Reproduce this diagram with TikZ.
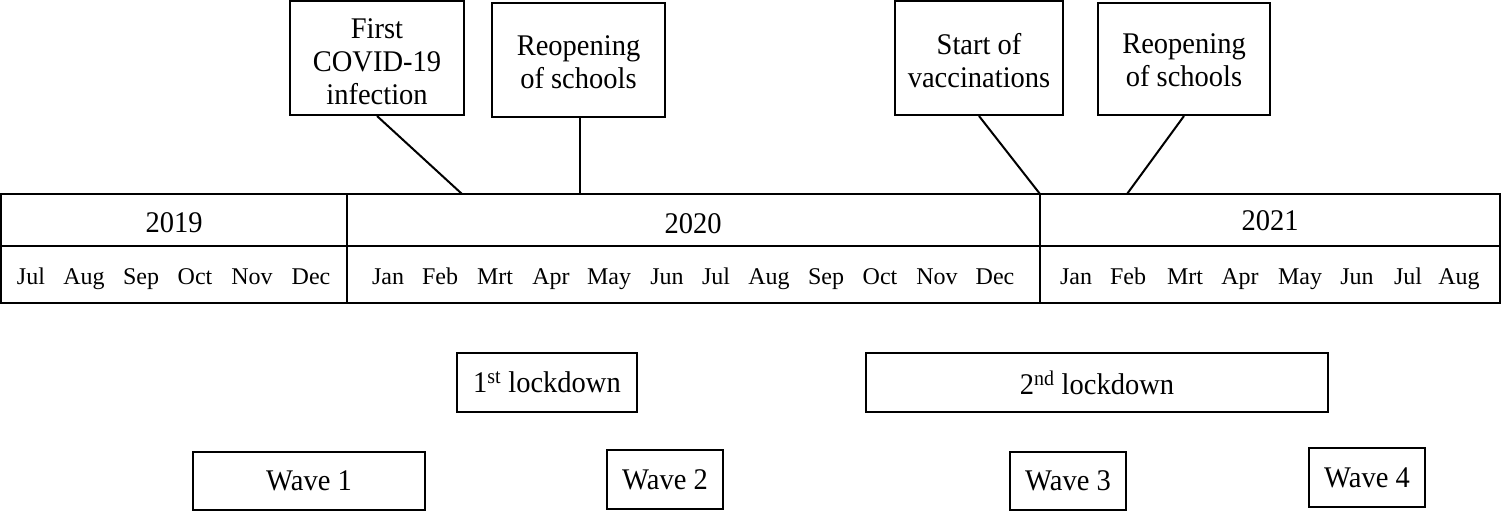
\documentclass[tikz,border=0pt]{standalone}
\usepackage{fontspec}
\setmainfont{Liberation Serif}
\newfontfamily\boxfont[FakeStretch=0.95]{Liberation Serif}
\begin{document}
\begin{tikzpicture}[x=1pt,y=-1pt,
  box/.style={draw,line width=2pt,align=center,inner sep=0pt,font=\boxfont\fontsize{30}{33}\selectfont},
  lbl/.style={inner sep=0pt,align=center,font=\boxfont\fontsize{30}{33}\selectfont},
  mon/.style={inner sep=0pt,font=\fontsize{24}{28}\selectfont},
  conn/.style={line width=2pt}]
\useasboundingbox (0,0) rectangle (1502,511);
% timeline
\draw[conn] (1,194) rectangle (1500,303);
\draw[conn] (1,246) -- (1500,246);
\draw[conn] (347,194) -- (347,303);
\draw[conn] (1040,194) -- (1040,303);
\node[lbl,anchor=base] (y2019) at (174,232) {2019};
\node[lbl,anchor=base] (y2020) at (693,233) {2020};
\node[lbl,anchor=base] (y2021) at (1270,230) {2021};
\foreach \m/\x [count=\i] in {Jul/31,Aug/84,Sep/141,Oct/195,Nov/252,Dec/311,
  Jan/388,Feb/440,Mrt/495,Apr/551,May/609,Jun/667,Jul/716,Aug/769,Sep/826,Oct/880,Nov/937,Dec/995,
  Jan/1076,Feb/1128,Mrt/1185,Apr/1240,May/1300,Jun/1357,Jul/1408,Aug/1459}
  \node[mon,anchor=base] (m\i) at (\x,284) {\m};
\coordinate (t1) at (462,194);
\coordinate (t2) at (580,194);
\coordinate (t3) at (1040,194);
\coordinate (t4) at (1127,194);
% event boxes
\node[box,minimum width=174pt,minimum height=114pt] (first) at (377,58) {};
\node[lbl] (firstT) at (377,62) {First\\COVID-19\\infection};
\node[box,minimum width=173pt,minimum height=114pt] (reop1) at (578.5,60) {};
\node[lbl] (reop1T) at (578.5,62) {Reopening\\of schools};
\node[box,minimum width=168pt,minimum height=114pt] (vacc) at (979,58) {};
\node[lbl] (vaccT) at (979,61) {Start of\\vaccinations};
\node[box,minimum width=172pt,minimum height=112pt] (reop2) at (1184,59) {};
\node[lbl] (reop2T) at (1184,60.5) {Reopening\\of schools};
\draw[conn] (first.south) -- (t1);
\draw[conn] (reop1.south -| t2) -- (t2);
\draw[conn] (vacc.south) -- (t3);
\draw[conn] (reop2.south) -- (t4);
% lockdowns and waves
\node[box,minimum width=180pt,minimum height=59pt] (lock1) at (547,382.5) {1\textsuperscript{st} lockdown};
\node[box,minimum width=462pt,minimum height=59pt] (lock2) at (1097,382.5) {2\textsuperscript{nd} lockdown};
\node[box,minimum width=232pt,minimum height=58pt] (wave1) at (309,481) {Wave 1};
\node[box,minimum width=116pt,minimum height=59pt] (wave2) at (665,479.5) {Wave 2};
\node[box,minimum width=116pt,minimum height=58pt] (wave3) at (1068,481) {Wave 3};
\node[box,minimum width=116pt,minimum height=59pt] (wave4) at (1367,477.5) {Wave 4};
\end{tikzpicture}
\end{document}
